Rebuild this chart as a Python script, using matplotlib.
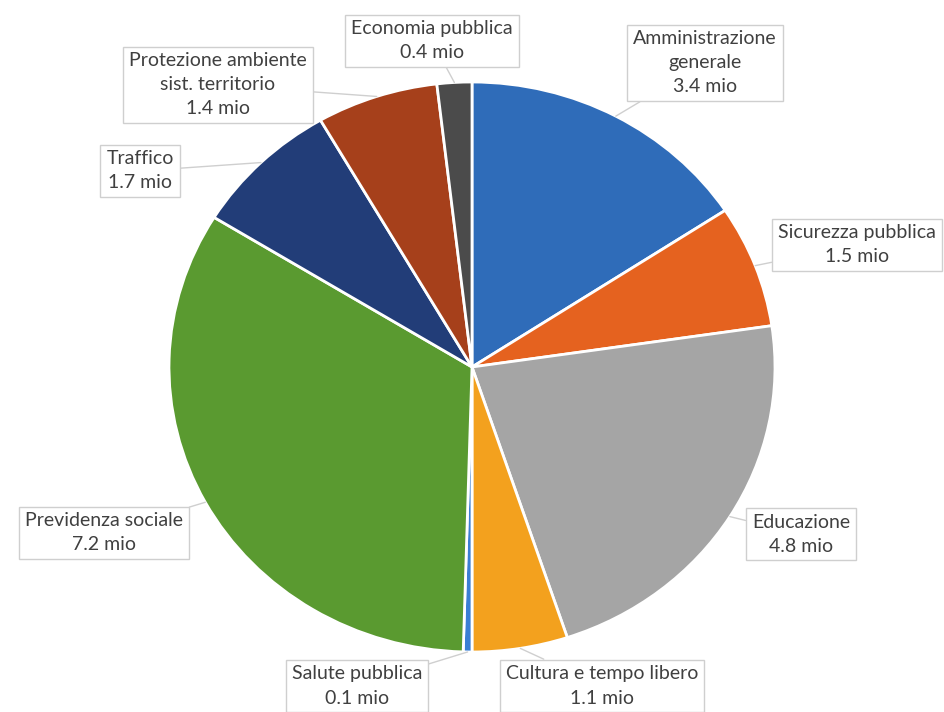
import matplotlib.pyplot as plt
import numpy as np

labels = ['Amministrazione\ngenerale', 'Sicurezza pubblica', 'Educazione',
          'Cultura e tempo libero', 'Salute pubblica', 'Previdenza sociale',
          'Traffico', 'Protezione ambiente\nsist. territorio', 'Economia pubblica']
values = [3.4, 1.5, 4.8, 1.1, 0.1, 7.2, 1.7, 1.4, 0.4]
colors = ['#2F6CB9', '#E5621F', '#A5A5A5', '#F3A11E', '#3A7ED4',
          '#5A9A30', '#223D78', '#A6401B', '#4B4B4B']

# label box centres in pixels of the 944x712 picture
label_px = [(705, 63), (857, 245), (801, 534), (602, 686), (357, 686),
            (104, 533), (140, 171), (218, 85), (432, 41)]

CX, CY, RX, RY = 472, 367, 303, 285


def to_data(px, py):
    return (px - CX) / RX, (CY - py) / RY


fig = plt.figure(figsize=(9.44, 7.12), dpi=100)
ax = fig.add_axes([0, 0, 1, 1])
wedges, _ = ax.pie(values, colors=colors, startangle=90, counterclock=False,
                   wedgeprops=dict(edgecolor='white', linewidth=2))
ax.set_aspect('auto')
ax.set_xlim(-CX / RX, (944 - CX) / RX)
ax.set_ylim(-(712 - CY) / RY, CY / RY)
ax.axis('off')

for w, lab, val, (px, py) in zip(wedges, labels, values, label_px):
    mid = np.deg2rad((w.theta1 + w.theta2) / 2)
    tip = (np.cos(mid), np.sin(mid))
    ax.annotate(f'{lab}\n{val} mio', xy=tip, xytext=to_data(px, py),
                ha='center', va='center', fontsize=14, family='Lato',
                color='#404040', linespacing=1.5,
                bbox=dict(boxstyle='square,pad=0.3', fc='white', ec='#CFCFCF', lw=1),
                arrowprops=dict(arrowstyle='-', color='#CFCFCF', lw=1,
                                shrinkA=0, shrinkB=0))

fig.savefig('out.png', dpi=100)
